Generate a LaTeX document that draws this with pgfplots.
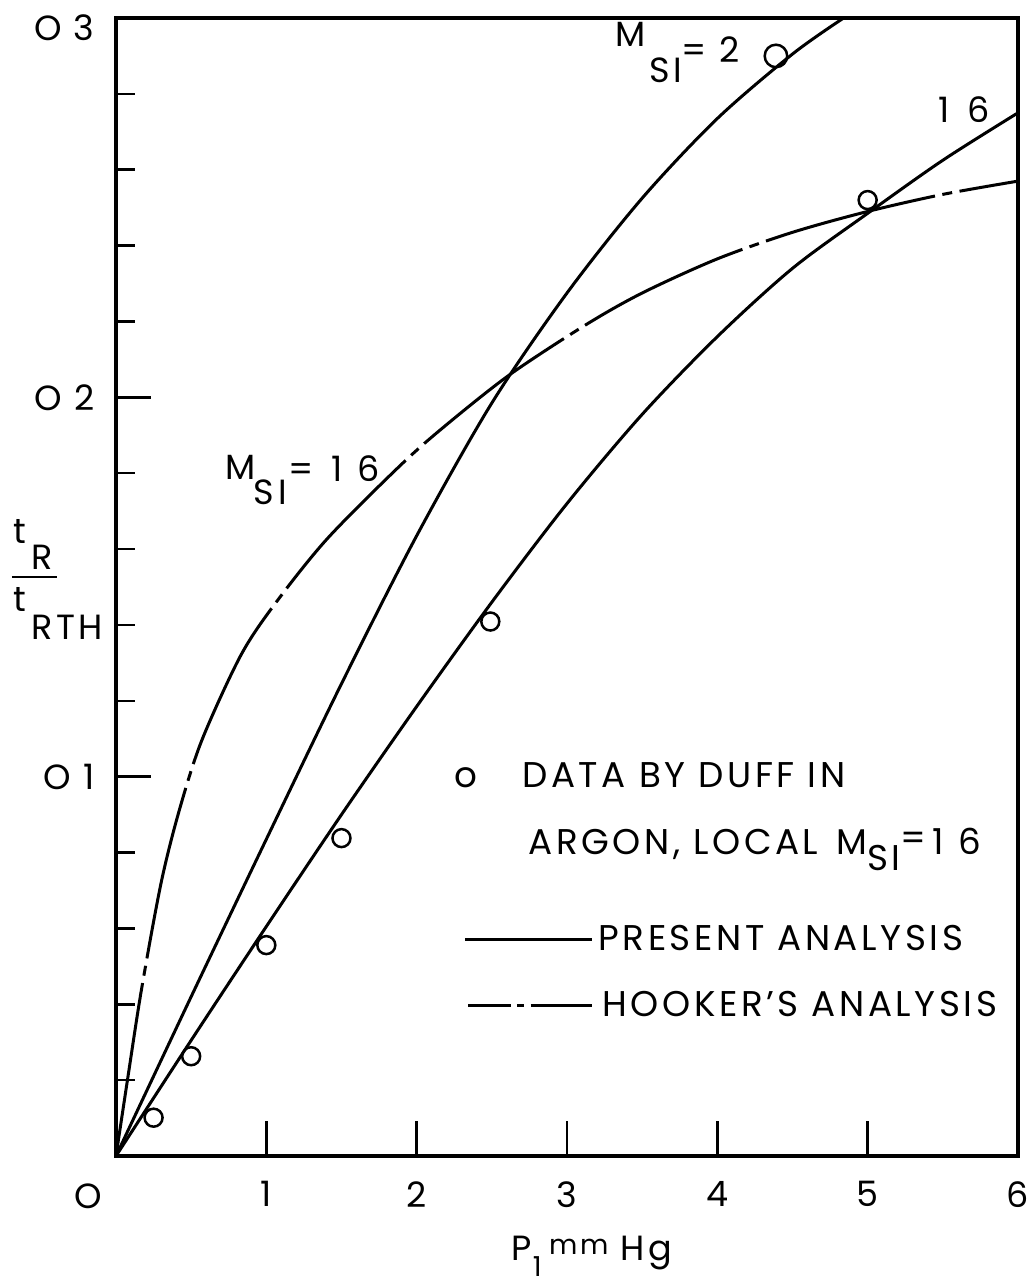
\documentclass[border=0pt]{standalone}
\usepackage{pgfplots}
\pgfplotsset{compat=1.18}
\usepackage{fontspec}
\setmainfont{Poppins}[LetterSpace=10]
\newcommand\tf{\fontsize{14}{16}\selectfont}
\newcommand\lf{\fontsize{14.3}{16}\selectfont}
\begin{document}
\begin{tikzpicture}
\begin{axis}[
  at={(0,0)}, anchor=south west,
  scale only axis, width=360.8pt, height=455.2pt,
  xmin=0, xmax=6, ymin=0, ymax=0.3,
  axis line style={line width=1.4pt},
  tick align=inside, tick pos=left,
  major tick length=14pt, minor tick length=7.6pt,
  tick style={line width=1pt, black},
  xtick={1,2,3,4,5,6}, xticklabels={1,2,3,4,5,6},
  ytick={0.1,0.2,0.3}, yticklabels={O\hspace{0.35em}1,O\hspace{0.35em}2,{}},
  minor ytick={0.02,0.04,0.06,0.08,0.12,0.14,0.16,0.18,0.22,0.24,0.26,0.28},
  ticklabel style={font=\tf, inner sep=0pt},
  xticklabel style={yshift=-10pt},
  yticklabel style={xshift=-8.4pt},
]
% Present analysis, M_SI = 2
\addplot[smooth, line width=1.2pt] coordinates {
  (0,0) (0.5,0.042) (1.0,0.0835) (1.5,0.1245) (2.0,0.1635) (2.5,0.1985)
  (3.0,0.2275) (3.5,0.2525) (4.0,0.2735) (4.5,0.2905) (4.84,0.300)};
% Present analysis, M_SI = 1.6
\addplot[smooth, line width=1.2pt] coordinates {
  (0,0) (0.5,0.0305) (1.0,0.0605) (1.5,0.0900) (2.0,0.1185) (2.5,0.1460)
  (3.0,0.1720) (3.5,0.1955) (4.0,0.2160) (4.5,0.2340) (5.0,0.2485)
  (5.5,0.2625) (6.0,0.275)};
% Hooker's analysis, M_SI = 1.6
\addplot[smooth, line width=1.2pt, dash pattern=on 70pt off 3pt on 4pt off 3pt] coordinates {
  (0,0) (0.08,0.021) (0.17,0.044) (0.3,0.072) (0.42,0.091) (0.57,0.1095)
  (0.825,0.1316) (1.045,0.1449) (1.4,0.1625) (1.89,0.1820) (2.19,0.1925)
  (2.62,0.2060) (3.12,0.2190) (3.5,0.2275) (4.0,0.2365) (4.5,0.2435)
  (5.0,0.2490) (5.5,0.2535) (6.0,0.2570)};
% Data by Duff
\addplot[only marks, mark=o, mark size=3.6pt, mark options={line width=1pt}] coordinates {
  (0.25,0.0101) (0.5,0.0263) (1.0,0.0556) (1.5,0.0838) (2.49,0.1409) (5.0,0.252)};
\addplot[only marks, mark=o, mark size=4.5pt, mark options={line width=1pt}] coordinates {
  (4.39,0.290)};
\end{axis}
% tick labels placed by hand
\node[font=\tf, inner sep=0pt] at (-11.2pt,-16pt) {O};
\node[font=\tf, inner sep=0pt, anchor=east] at (-8.4pt,451.2pt) {O\hspace{0.35em}3};
% y label
\node[font=\tf, inner sep=0pt, anchor=base west] at (-41pt,245pt) {t};
\node[font=\tf, inner sep=0pt, anchor=base west] at (-34pt,234.4pt) {R};
\draw[line width=1pt] (-41.6pt,231.6pt) -- (-23.6pt,231.6pt);
\node[font=\tf, inner sep=0pt, anchor=base west] at (-41pt,217.6pt) {t};
\node[font=\tf, inner sep=0pt, anchor=base west] at (-34pt,206.4pt) {RTH};
% x label
\node[font=\tf, inner sep=0pt, anchor=base west] at (158pt,-41.6pt) {P};
\node[font=\fontsize{11}{12}\selectfont, inner sep=0pt, anchor=base west] at (166.5pt,-48pt) {1};
\node[font=\fontsize{11}{12}\selectfont, inner sep=0pt, anchor=base west] at (173pt,-39.5pt) {mm};
\node[font=\tf, inner sep=0pt, anchor=base west] at (201.6pt,-41.6pt) {Hg};
% curve annotations
\node[font=\tf, inner sep=0pt, anchor=base west] at (199.6pt,443.6pt) {M};
\node[font=\tf, inner sep=0pt, anchor=base west] at (213pt,429.2pt) {SI};
\node[font=\tf, inner sep=0pt, anchor=base west] at (226pt,437.2pt) {= 2};
\node[font=\tf, inner sep=0pt, anchor=base west] at (328.8pt,413.2pt) {1\hspace{7pt}6};
\node[font=\tf, inner sep=0pt, anchor=base west] at (43.6pt,270.4pt) {M};
\node[font=\tf, inner sep=0pt, anchor=base west] at (55pt,260.4pt) {SI};
\node[font=\tf, inner sep=0pt, anchor=base west] at (69pt,269.6pt) {=\enspace1\hspace{6pt}6};
% legend
\node[font=\lf, inner sep=0pt, anchor=base] at (140pt,147.6pt) {o};
\node[font=\lf, inner sep=0pt, anchor=base west] at (162.4pt,147.6pt) {DATA BY DUFF IN};
\node[font=\lf, inner sep=0pt, anchor=base west] at (164.8pt,120.8pt) {ARGON, LOCAL\enspace M\raisebox{-6.5pt}{SI}\raisebox{1.5pt}{=}\,1\hspace{6pt}6};
\draw[line width=1.2pt] (139.6pt,86.4pt) -- (190.4pt,86.4pt);
\node[font=\lf, inner sep=0pt, anchor=base west] at (192.8pt,82pt) {PRESENT ANALYSIS};
\draw[line width=1.2pt, dash pattern=on 17pt off 2.5pt on 3pt off 2.5pt on 30pt off 0pt] (140.8pt,60.4pt) -- (190.4pt,60.4pt);
\node[font=\lf, inner sep=0pt, anchor=base west] at (194.4pt,56pt) {HOOKER’S ANALYSIS};
\pgfresetboundingbox
\path (-46.4pt,-52.8pt) rectangle (368pt,462.4pt);
\end{tikzpicture}
\end{document}
